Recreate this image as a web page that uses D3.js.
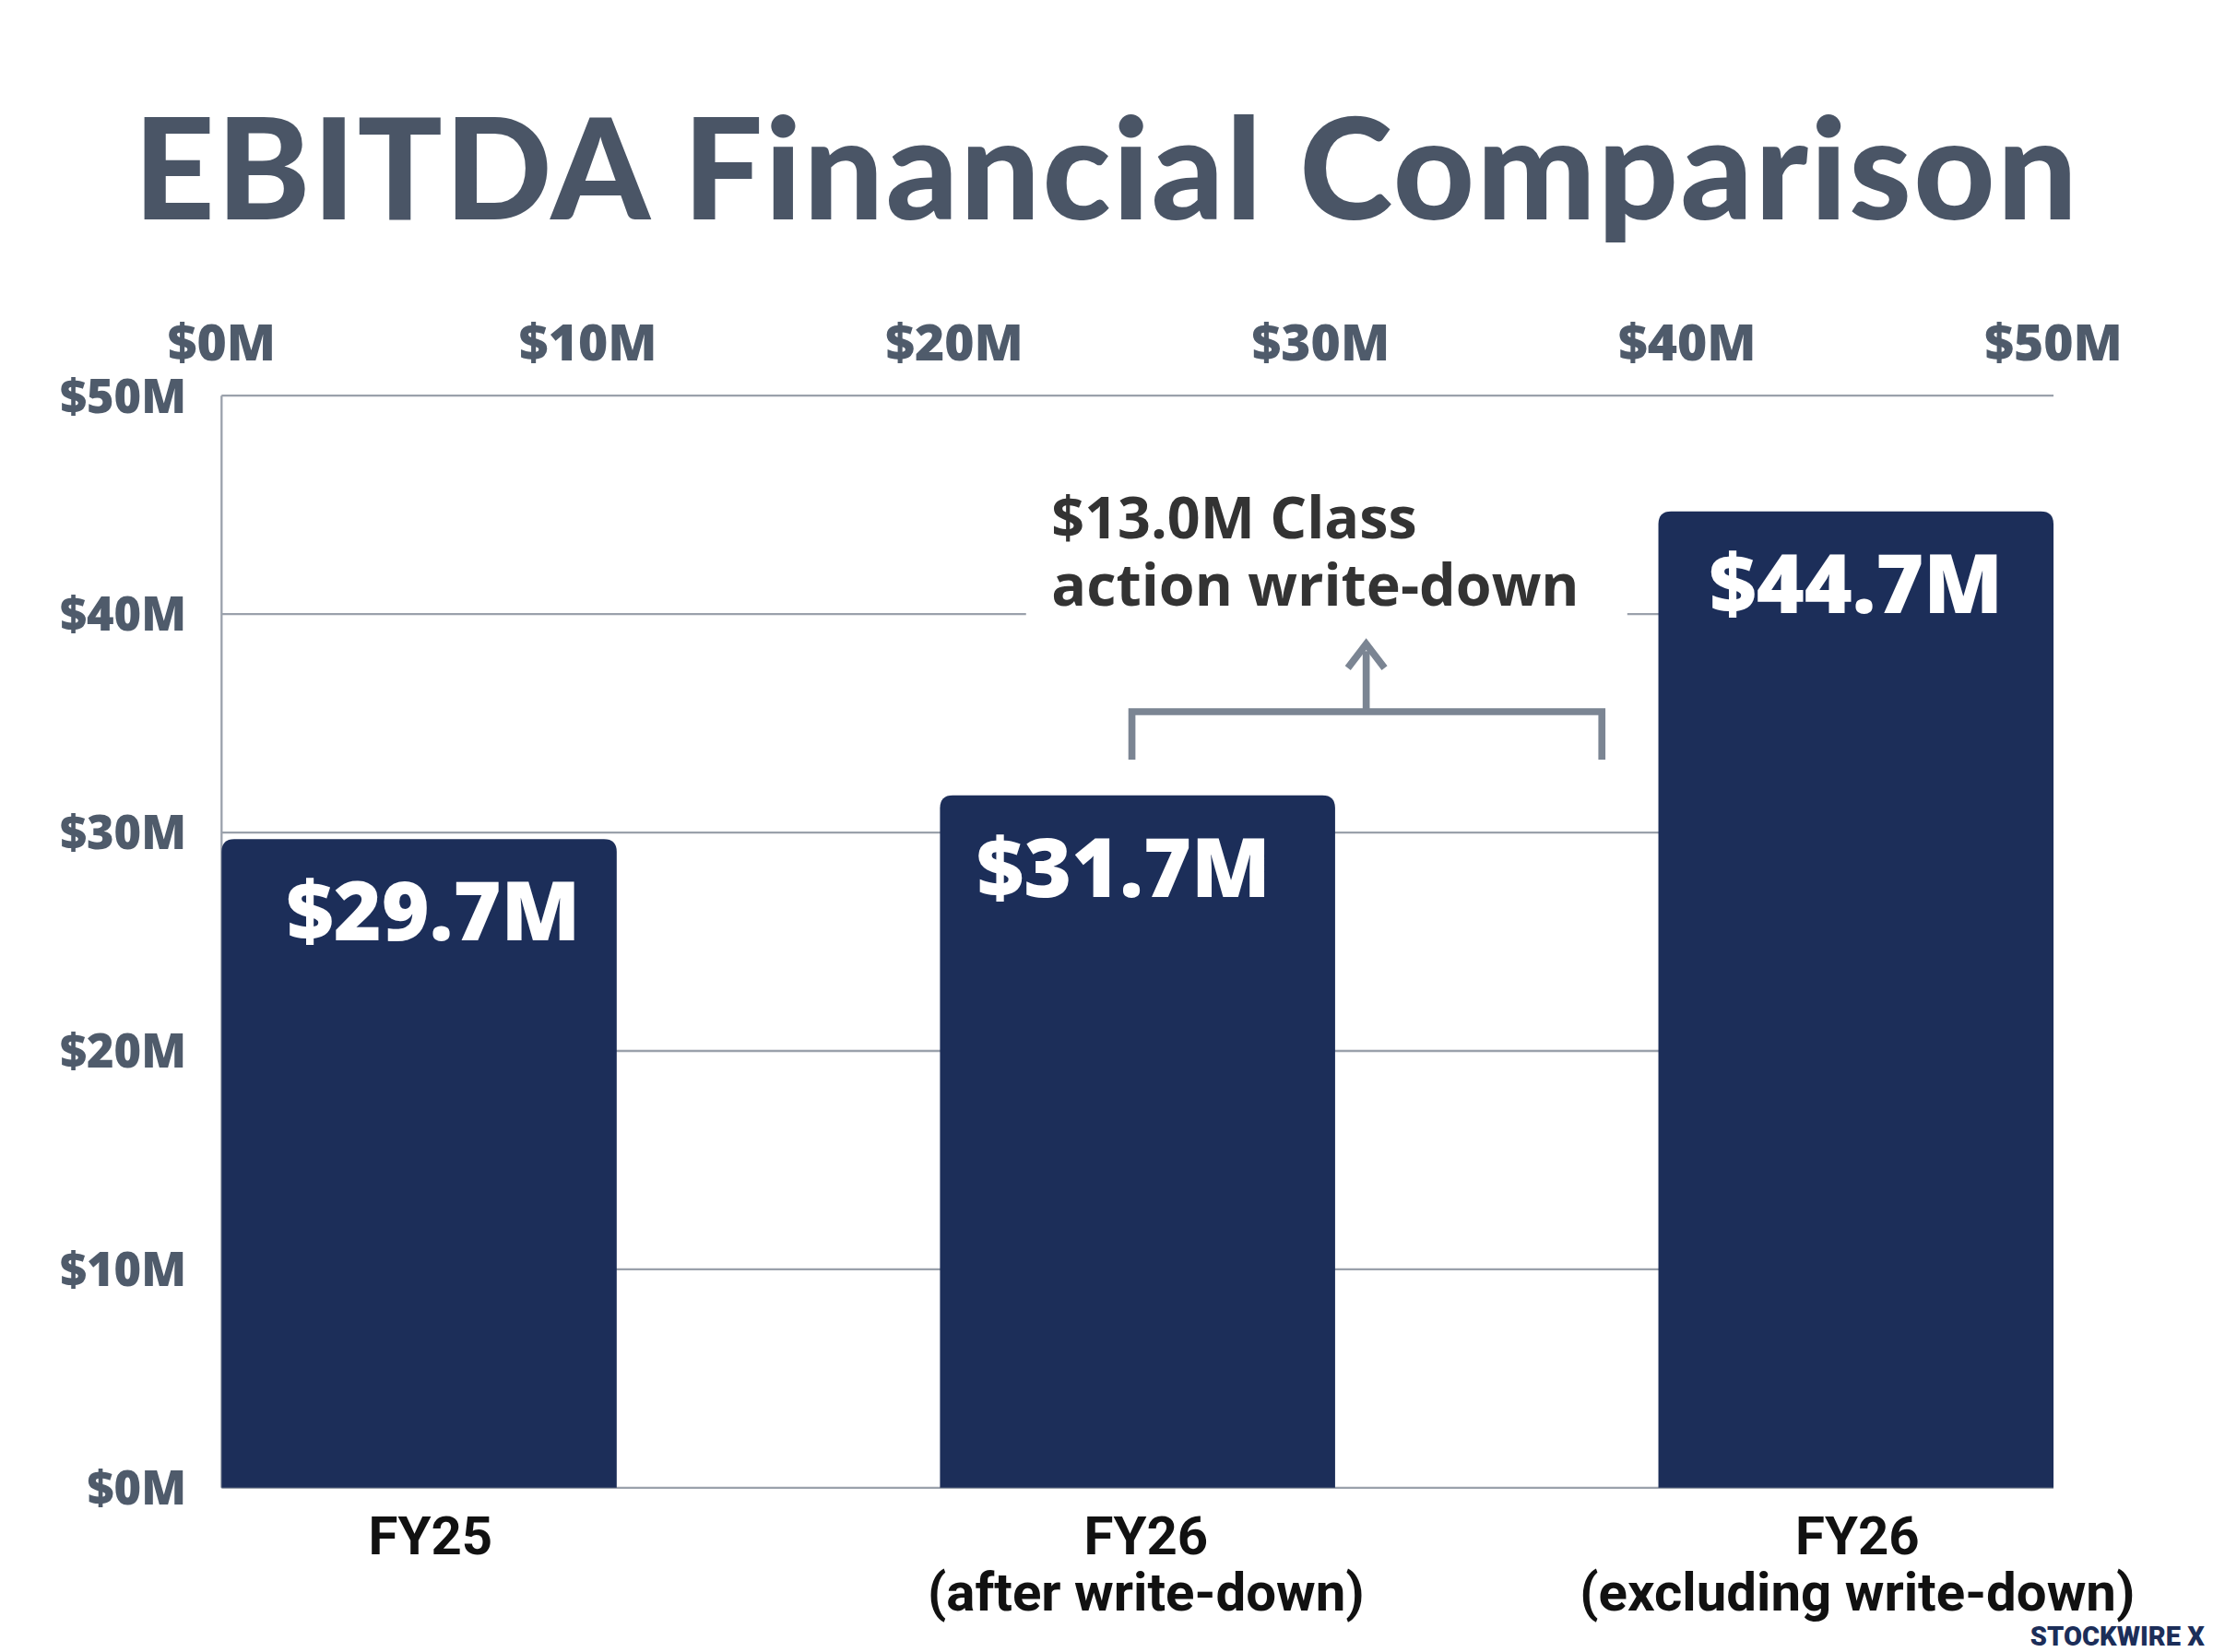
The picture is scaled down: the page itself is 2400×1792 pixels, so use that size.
<!DOCTYPE html>
<html><head><meta charset="utf-8">
<script src="https://cdn.jsdelivr.net/npm/d3@7"></script>
<style>body{margin:0;background:#fff}</style>
</head><body>
<div id="chart"></div>
<script>
var categories = [["FY25"], ["FY26", "(after write-down)"], ["FY26", "(excluding write-down)"]]
var values = [29.7, 31.7, 44.7]
var valueLabels = ["$29.7M", "$31.7M", "$44.7M"]
var ticks = [0, 10, 20, 30, 40, 50]
var note = ["$13.0M Class", "action write-down"]

var W = 1568, H = 1168
var svg = d3.select("#chart").append("svg")
	.attr("width", 2400).attr("height", 1792)
	.attr("viewBox", "0 0 " + W + " " + H)

var pLeft = 157, pRight = 1455, pTop = 279, pBottom = 1053
var x = d3.scaleBand().domain(d3.range(3)).range([pLeft, pRight]).paddingInner(0.45).paddingOuter(0)
var y = d3.scaleLinear().domain([0, 50]).range([pBottom, pTop])
var xt = d3.scaleLinear().domain([0, 50]).range([pLeft, pRight])
var gray = "#4f5b6b"

svg.append("text").attr("x", 784).attr("y", 154).attr("text-anchor", "middle")
	.style("font-family", "Lato").style("font-weight", 900).style("font-size", "100px")
	.style("letter-spacing", "1.5px")
	.attr("fill", "#4a5566").text("EBITDA Financial Comparison")

// grid
svg.selectAll(".grid").data(ticks).enter().append("line")
	.attr("x1", pLeft).attr("x2", pRight).attr("y1", function(d){ return y(d) }).attr("y2", function(d){ return y(d) })
	.attr("stroke", "#9aa1ab").attr("stroke-width", 1.5)
svg.append("line").attr("x1", pLeft).attr("x2", pLeft).attr("y1", pTop).attr("y2", pBottom)
	.attr("stroke", "#9aa1ab").attr("stroke-width", 1.5)

// y labels
svg.selectAll(".yl").data(ticks).enter().append("text")
	.attr("x", 132).attr("y", function(d){ return y(d) + 12 }).attr("text-anchor", "end")
	.style("font-family", "Open Sans").style("font-weight", 800).style("font-size", "33px")
	.attr("fill", gray).text(function(d){ return "$" + d + "M" })
// top labels
svg.selectAll(".xl").data(ticks).enter().append("text")
	.attr("x", function(d){ return xt(d) }).attr("y", 254).attr("text-anchor", "middle")
	.style("font-family", "Open Sans").style("font-weight", 800).style("font-size", "36px")
	.attr("fill", gray).text(function(d){ return "$" + d + "M" })

// annotation background + text
svg.append("rect").attr("x", 727).attr("y", 335).attr("width", 426).attr("height", 110).attr("fill", "#fff")
svg.selectAll(".note").data(note).enter().append("text")
	.attr("x", 745).attr("y", function(d, i){ return 380 + i * 48 })
	.style("font-family", "Open Sans").style("font-weight", 700).style("font-size", "41px")
	.attr("fill", "#333").text(function(d){ return d })

// bars
function barPath(x0, y0, w, h, r){
	return "M" + x0 + "," + (y0 + h) + "V" + (y0 + r) + "Q" + x0 + "," + y0 + " " + (x0 + r) + "," + y0 +
		"H" + (x0 + w - r) + "Q" + (x0 + w) + "," + y0 + " " + (x0 + w) + "," + (y0 + r) + "V" + (y0 + h) + "Z"
}
svg.selectAll(".bar").data(values).enter().append("path")
	.attr("d", function(d, i){ return barPath(x(i), y(d), x.bandwidth(), pBottom - y(d), 9) })
	.attr("fill", "#1c2e59")
svg.selectAll(".vl").data(values).enter().append("text")
	.attr("x", function(d, i){ return x(i) + x.bandwidth() / 2 + (i == 0 ? 10 : i == 1 ? -10 : 0) }).attr("y", function(d){ return y(d) + 72 })
	.attr("text-anchor", "middle")
	.style("font-family", "Open Sans").style("font-weight", 800).style("font-size", "58px")
	.attr("fill", "#fff").text(function(d, i){ return valueLabels[i] })

// categories
categories.forEach(function(c, i){
	c.forEach(function(t, j){
		svg.append("text").attr("x", x(i) + x.bandwidth() / 2 + (i == 0 ? 8 : i == 1 ? 6 : 1)).attr("y", 1100 + j * 40)
			.attr("text-anchor", "middle")
			.style("font-family", "Roboto").style("font-weight", 700).style("font-size", "38px")
			.attr("fill", "#111").text(t)
	})
})

// bracket + arrow
var bc = "#7b8593"
svg.append("path").attr("d", "M802,537V503H1135V537M968,503V460")
	.attr("fill", "none").attr("stroke", bc).attr("stroke-width", 5)
svg.append("path").attr("d", "M955,472L968,455L981,472").attr("fill", "none").attr("stroke", bc).attr("stroke-width", 5)

svg.append("text").attr("x", 1562).attr("y", 1165).attr("text-anchor", "end")
	.style("font-family", "Roboto").style("font-weight", 900).style("font-size", "19px")
	.attr("fill", "#1c2e59").text("STOCKWIRE X")
</script>
</body></html>
